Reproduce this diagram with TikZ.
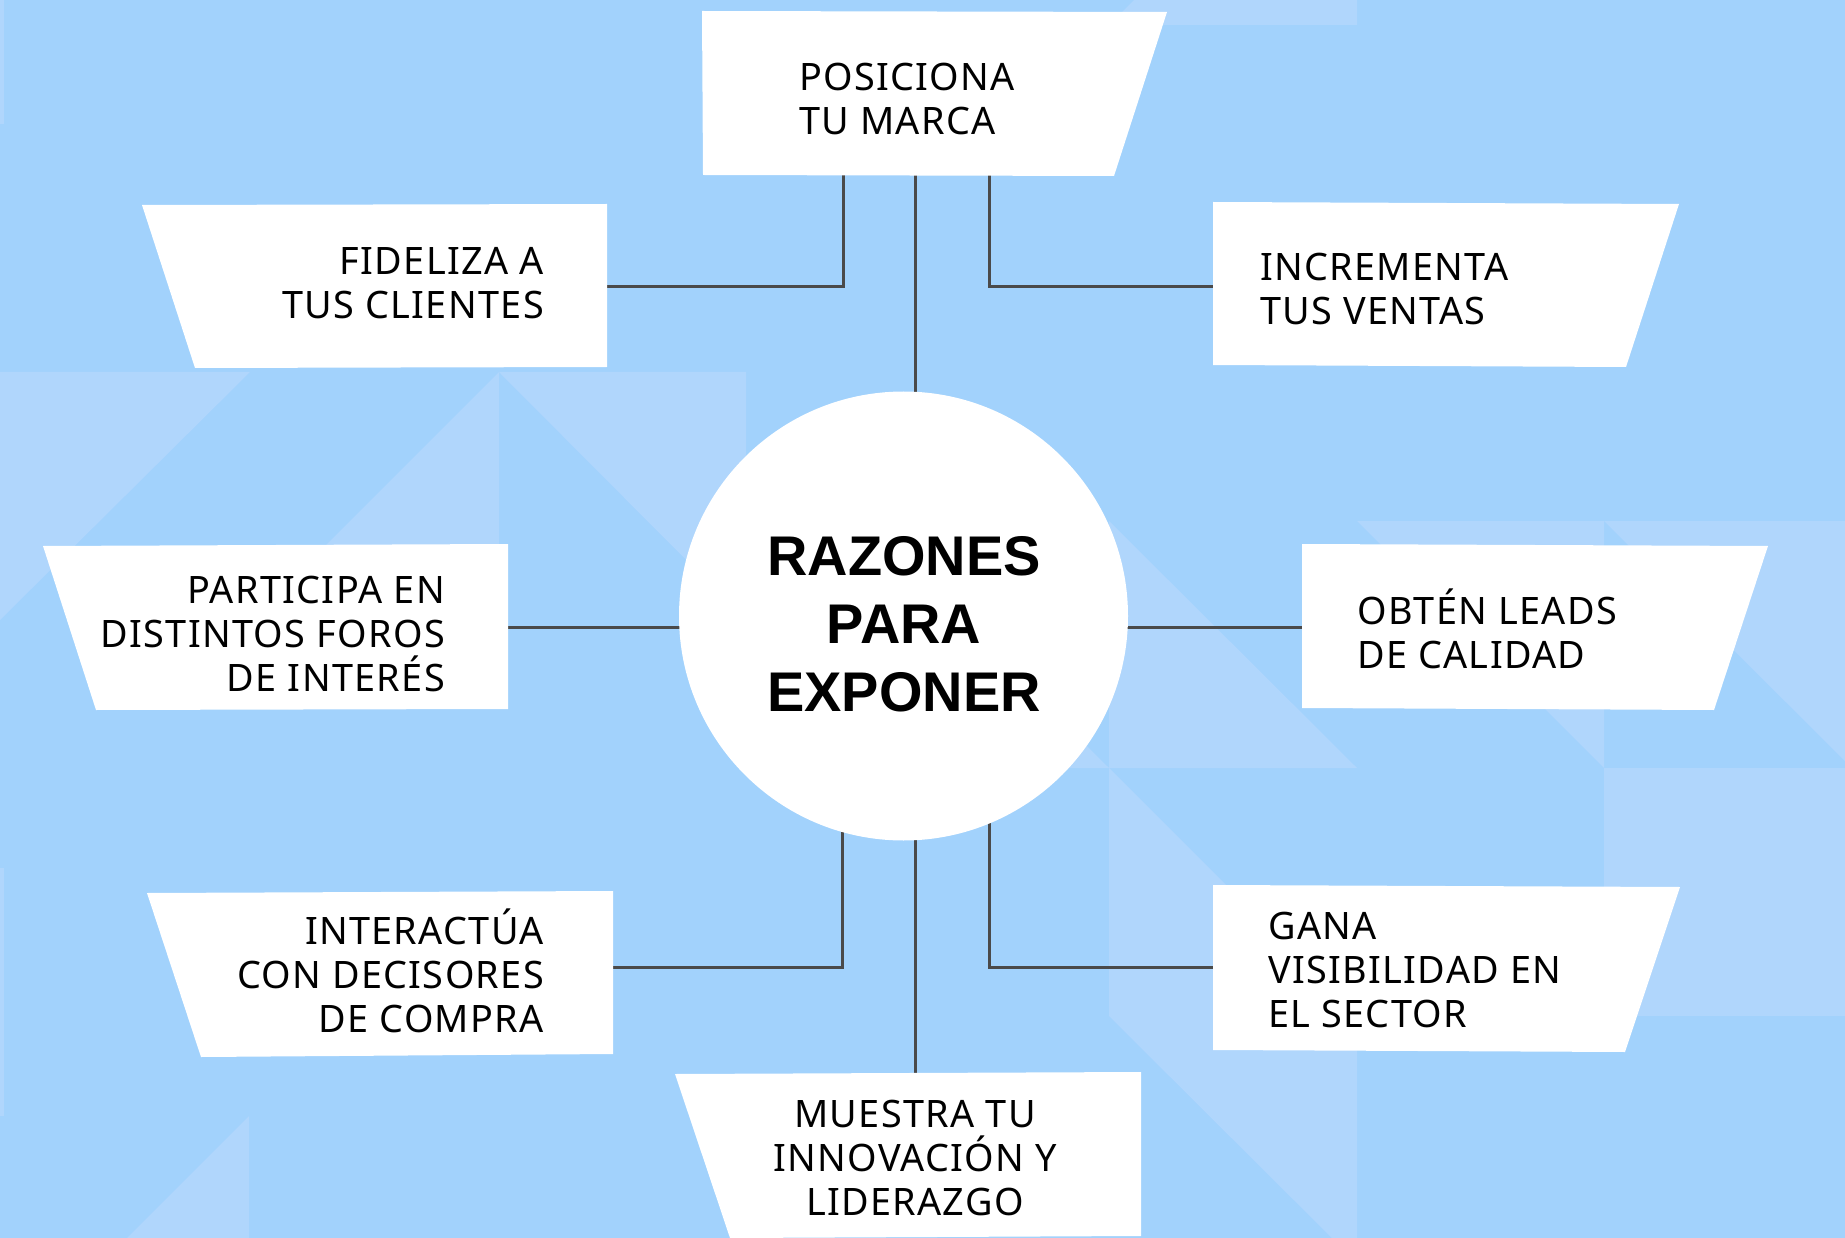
\documentclass[tikz,border=0pt]{standalone}
\usepackage{fontspec}
\setmainfont{Noto Sans}[LetterSpace=3.5]
\newfontfamily\ctrfont{Liberation Sans}
\definecolor{bgA}{HTML}{A2D2FC}
\definecolor{bgB}{HTML}{B0D6FC}
\definecolor{lineC}{HTML}{4A4A4A}
\newcommand\Llines[1]{\vtop{\halign{##\hfil\cr#1\crcr}}}
\newcommand\Rlines[1]{\vtop{\halign{\hfil##\cr#1\crcr}}}
\newcommand\Clines[1]{\vtop{\halign{\hfil##\hfil\cr#1\crcr}}}
\begin{document}
\begin{tikzpicture}[x=1pt,y=-1pt,
  lbl/.style={inner sep=0pt, text=black, font=\fontsize{37.8}{44}\selectfont},
  ctr/.style={inner sep=0pt, text=black, font=\ctrfont\bfseries\fontsize{55.9}{68}\selectfont},
  boxfill/.style={fill=white},
  conn/.style={draw=lineC, line width=3pt},
  lite/.style={fill=bgB}]
\useasboundingbox (0,0) rectangle (1845,1238);
\fill[bgA] (0,0) rectangle (1845,1238);
% background pattern
\begin{scope}
\clip (0,0) rectangle (1845,1238);
\fill[lite] (0,-124) rectangle (4,124);
\fill[lite] (0,372) -- (250,372) -- (0,620) -- cycle;
\fill[lite] (499,372) -- (499,620) -- (251,620) -- cycle;
\fill[lite] (499,372) -- (746,372) -- (746,620) -- cycle;
\fill[lite] (0,868) rectangle (4,1116);
\fill[lite] (249,1116) -- (249,1364) -- (1,1364) -- cycle;
\fill[lite] (1109,25) -- (1357,25) -- (1357,-223) -- cycle;
\fill[lite] (861,521) -- (861,768) -- (1109,768) -- cycle;
\fill[lite] (1109,521) -- (1109,768) -- (1357,768) -- cycle;
\fill[lite] (1357,521) -- (1604,521) -- (1604,768) -- cycle;
\fill[lite] (1604,521) -- (1852,521) -- (1852,768) -- cycle;
\fill[lite] (1109,768) -- (1109,1016) -- (1357,1016) -- cycle;
\fill[lite] (1604,768) rectangle (1852,1016);
\fill[lite] (1109,1016) -- (1357,1016) -- (1357,1263) -- cycle;
\end{scope}
% connection points
\coordinate (posA) at (843,175);
\coordinate (posB) at (915,175);
\coordinate (posC) at (989,175);
\coordinate (fidE) at (607,287);
\coordinate (incW) at (1213,287);
\coordinate (parE) at (508,627);
\coordinate (obtW) at (1302,627);
\coordinate (intE) at (613,967);
\coordinate (ganW) at (1213,967);
\coordinate (mueN) at (915,1073);
\coordinate (cA) at (842,616);
\coordinate (cB) at (915,616);
\coordinate (cC) at (989,616);
\coordinate (cW) at (700,627);
\coordinate (cE) at (1100,627);
% connectors
\draw[conn] (posA) |- (fidE);
\draw[conn] (posC) |- (incW);
\draw[conn] (posB) -- (cB);
\draw[conn] (parE) -- (cW);
\draw[conn] (cE) -- (obtW);
\draw[conn] (cA) |- (intE);
\draw[conn] (cC) |- (ganW);
\draw[conn] (cB) -- (mueN);
% boxes
\fill[boxfill] (702,11) -- (1167,12) -- (1114,176) -- (703,175) -- cycle;
\fill[boxfill] (142,205) -- (607,204) -- (607,367) -- (195,368) -- cycle;
\fill[boxfill] (1213,202) -- (1679,204) -- (1626,367) -- (1213,365) -- cycle;
\fill[boxfill] (43,546) -- (508,544) -- (508,709) -- (96,710) -- cycle;
\fill[boxfill] (1302,544) -- (1768,546) -- (1714,710) -- (1302,708) -- cycle;
\fill[boxfill] (147,893) -- (613,891) -- (613,1054) -- (201,1057) -- cycle;
\fill[boxfill] (1213,885) -- (1680,887) -- (1625,1052) -- (1213,1050) -- cycle;
\fill[boxfill] (675,1074) -- (1141,1072) -- (1141,1236) -- (730,1238) -- cycle;
% centre
\node[circle, fill=white, minimum size=449pt, inner sep=0pt] (c) at (903.5,616) {};
\node[ctr, anchor=base] (ctext) at (904,575) {\Clines{RAZONES\cr PARA\cr EXPONER}};
% labels
\node[lbl, anchor=base west] (tPos) at (799,91) {\Llines{POSICIONA\cr TU MARCA}};
\node[lbl, anchor=base east] (tFid) at (544,275) {\Rlines{FIDELIZA A\cr TUS CLIENTES}};
\node[lbl, anchor=base west] (tInc) at (1260,281) {\Llines{INCREMENTA\cr TUS VENTAS}};
\node[lbl, anchor=base east] (tPar) at (445,603) {\Rlines{PARTICIPA EN\cr DISTINTOS FOROS\cr DE INTERÉS}};
\node[lbl, anchor=base west] (tObt) at (1357,624) {\Llines{OBTÉN LEADS\cr DE CALIDAD}};
\node[lbl, anchor=base east] (tInt) at (544,944) {\Rlines{INTERACTÚA\cr CON DECISORES\cr DE COMPRA}};
\node[lbl, anchor=base west] (tGan) at (1268,939) {\Llines{GANA\cr VISIBILIDAD EN\cr EL SECTOR}};
\node[lbl, anchor=base] (tMue) at (915,1127) {\Clines{MUESTRA TU\cr INNOVACIÓN Y\cr LIDERAZGO}};
\end{tikzpicture}
\end{document}
